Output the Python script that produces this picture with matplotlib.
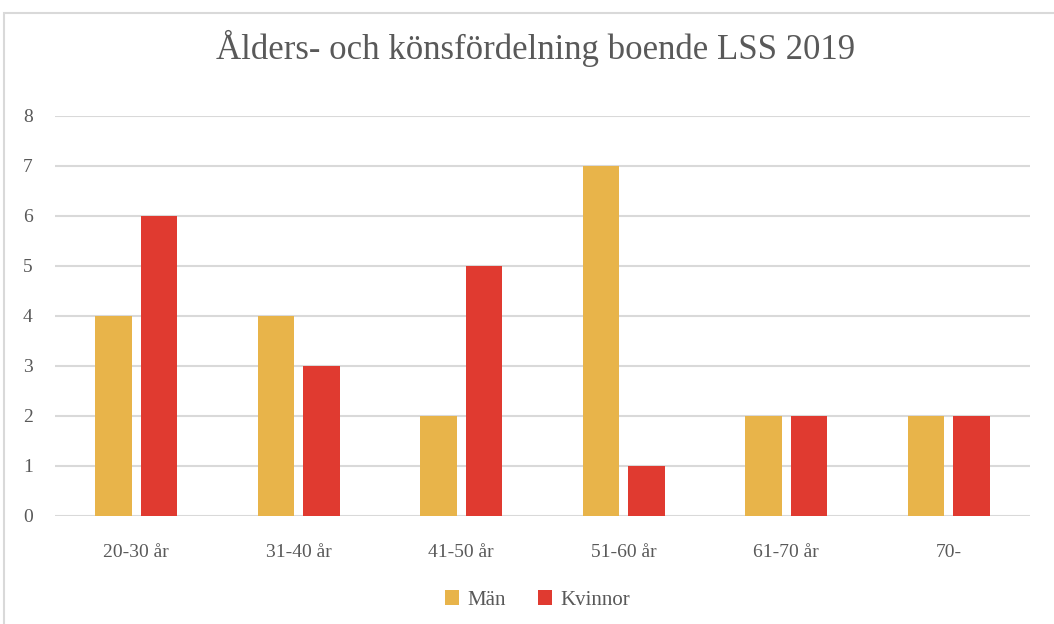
import matplotlib
import matplotlib.pyplot as plt
import numpy as np
from matplotlib.patches import Rectangle

matplotlib.use("Agg")

categories = ["20-30 år", "31-40 år", "41-50 år", "51-60 år", "61-70 år", "70-"]
man = [4, 4, 2, 7, 2, 2]
kvinnor = [6, 3, 5, 1, 2, 2]
yticks = [0, 1, 2, 3, 4, 5, 6, 7, 8]

plt.rcParams["font.family"] = ["Liberation Serif", "DejaVu Serif"]
TEXT = "#595959"
GRID = "#d9d9d9"

fig = plt.figure(figsize=(10.54, 6.24), dpi=100)
fig.patches.append(Rectangle((4 / 1054, -0.1), 1.2, (624 - 13) / 624 + 0.1,
                             transform=fig.transFigure, fill=False,
                             edgecolor=GRID, linewidth=1.5))

ax = fig.add_axes([55 / 1054, 108 / 624, 975 / 1054, 400 / 624])
x = np.arange(len(categories))
w = 0.226
gap = 0.055
ax.bar(x - (w + gap) / 2, man, w, color="#E8B44A", label="Män", zorder=3)
ax.bar(x + (w + gap) / 2, kvinnor, w, color="#E03A30", label="Kvinnor", zorder=3)

ax.set_xlim(-0.5, len(categories) - 0.5)
ax.set_ylim(0, 8)
ax.set_yticks(yticks)
ax.set_xticks(x)
ax.set_xticklabels(categories)
ax.grid(axis="y", color=GRID, linewidth=1.5, zorder=0)
for s in ax.spines.values():
    s.set_visible(False)
ax.tick_params(length=0, labelsize=14, colors=TEXT)
ax.tick_params(axis="x", pad=20)
ax.tick_params(axis="y", pad=16)

fig.text(0.508, 0.923, "Ålders- och könsfördelning boende LSS 2019",
         ha="center", va="center", fontsize=25, color=TEXT)

fig.legend(loc="center", bbox_to_anchor=(0.51, 0.038), ncol=2, frameon=False,
           fontsize=15, labelcolor=TEXT, handlelength=0.7, handleheight=0.7,
           columnspacing=1.5, handletextpad=0.4)

fig.savefig("out.png", dpi=100)
